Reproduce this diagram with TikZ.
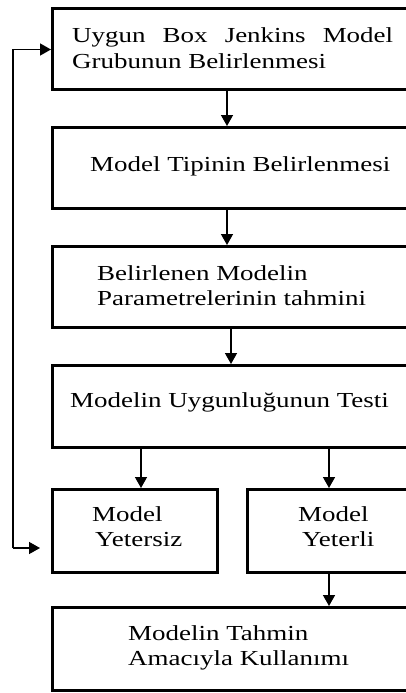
\documentclass[tikz,border=0pt]{standalone}
\usepackage{fontspec}
\setmainfont{Liberation Serif}[FakeStretch=1.26]
\usetikzlibrary{arrows.meta}
\begin{document}
\begin{tikzpicture}[x=1pt,y=-1pt,
  box/.style={draw=black,line width=3pt,rectangle,inner sep=0pt,anchor=north west,minimum width=379pt},
  txt/.style={inner sep=0pt,anchor=base west,font=\fontsize{21.4}{25}\selectfont},
  arr/.style={line width=1.5pt,-{Triangle[length=11pt,width=12pt]}}]
\useasboundingbox (0,0) rectangle (406,693);
\clip (0,0) rectangle (406,693);
% boxes
\node[box,minimum height=81pt] (b1) at (51,7) {};
\node[box,minimum height=81pt] (b2) at (51,126) {};
\node[box,minimum height=81pt] (b3) at (51,245) {};
\node[box,minimum height=82pt] (b4) at (51,364) {};
\node[box,minimum width=165pt,minimum height=83pt] (b5) at (51,488) {};
\node[box,minimum width=184pt,minimum height=83pt] (b6) at (246,488) {};
\node[box,minimum height=83pt] (b7) at (51,606) {};
% texts
\node[txt] (t1a) at (72,43) {\makebox[321pt][l]{Uygun\hfill Box\hfill Jenkins\hfill Model}};
\node[txt] (t1b) at (72,68) {Grubunun Belirlenmesi};
\node[txt] (t2) at (90,171) {Model Tipinin Belirlenmesi};
\node[txt] (t3a) at (97,280) {Belirlenen Modelin};
\node[txt] (t3b) at (97,305) {Parametrelerinin tahmini};
\node[txt] (t4) at (70,407) {Modelin Uygunluğunun Testi};
\node[txt] (t5a) at (92,521) {Model};
\node[txt] (t5b) at (95,546) {Yetersiz};
\node[txt] (t6a) at (298,521) {Model};
\node[txt] (t6b) at (302,546) {Yeterli};
\node[txt] (t7a) at (128,640) {Modelin Tahmin};
\node[txt] (t7b) at (128,665) {Amacıyla Kullanımı};
% arrow columns
\coordinate (c1) at (227,0);
\coordinate (c3) at (231,0);
\coordinate (cl) at (141,0);
\coordinate (cr) at (329,0);
\draw[arr] (c1 |- b1.south) -- (c1 |- b2.north);
\draw[arr] (c1 |- b2.south) -- (c1 |- b3.north);
\draw[arr] (c3 |- b3.south) -- (c3 |- b4.north);
\draw[arr] (cl |- b4.south) -- (cl |- b5.north);
\draw[arr] (cr |- b4.south) -- (cr |- b6.north);
\draw[arr] (cr |- b6.south) -- (cr |- b7.north);
% feedback loop
\coordinate (fbt) at (13,49.5);
\coordinate (fbc) at (13,548);
\coordinate (fbe) at (40,548);
\draw[arr] (fbc) -- (fbt) -- (b1.west |- fbt);
\draw[arr] (fbc) -- (fbe);
\end{tikzpicture}
\end{document}
